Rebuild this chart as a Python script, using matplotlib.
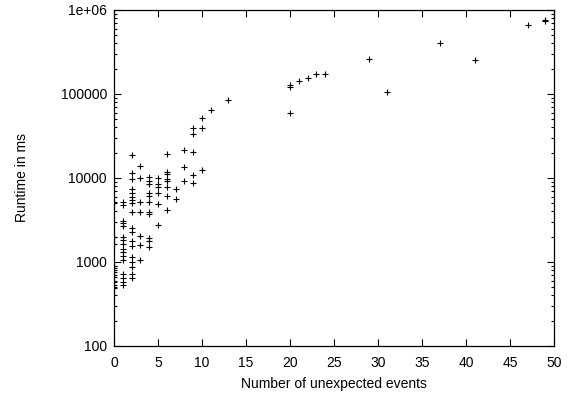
import matplotlib
matplotlib.use("Agg")
import matplotlib.pyplot as plt
from matplotlib.ticker import LogLocator, FixedLocator, NullFormatter, FixedFormatter

# Number of unexpected events (x) and runtime in ms (y)
events = [
    0, 0, 0, 0, 0, 0, 0, 0, 0, 0,
    1, 1, 1, 1, 1, 1, 1, 1, 1, 1, 1, 1, 1, 1, 1, 1,
    2, 2, 2, 2, 2, 2, 2, 2, 2, 2, 2, 2, 2, 2, 2, 2, 2, 2,
    3, 3, 3, 3, 3, 3, 3,
    4, 4, 4, 4, 4, 4, 4, 4, 4, 4, 4,
    5, 5, 5, 5, 5, 5,
    6, 6, 6, 6, 6, 6, 6, 6,
    7, 7,
    8, 8, 8,
    9, 9, 9, 9, 9,
    10, 10, 10,
    11, 13,
    20, 20, 20, 21, 22, 23, 24,
    29, 31, 37, 41, 47, 49, 49,
]
runtime_ms = [
    5140, 1970, 1630, 903, 842, 767, 668, 582, 532, 494,
    5140, 4780, 3080, 2890, 2690, 2000, 1830, 1630, 1430, 1330, 1190, 1060, 713, 640, 582, 532,
    18900, 11600, 9640, 7330, 6680, 6000, 5470, 5000, 3930, 2520, 2300, 1780, 1560, 1160, 990, 879, 713, 640,
    13800, 9920, 5140, 3930, 2040, 1590, 1060,
    10200, 9300, 8490, 6580, 6110, 5140, 3970, 3730, 1910, 1790, 1520,
    9920, 8490, 7870, 6680, 4900, 2750,
    19400, 11900, 11200, 9640, 9300, 7870, 6110, 4160,
    7400, 5570,
    21500, 13600, 9200,
    39000, 33000, 20200, 10900, 8650,
    52000, 39000, 12400,
    65000, 85000,
    127000, 120000, 59000, 144000, 155000, 173000, 173000,
    259000, 106000, 402000, 252000, 658000, 760000, 740000,
]

x_ticks = [0, 5, 10, 15, 20, 25, 30, 35, 40, 45, 50]
y_ticks = [100, 1000, 10000, 100000, 1000000]
y_tick_labels = ["100", "1000", "10000", "100000", "1e+06"]

plt.rcParams["font.family"] = ["Liberation Sans", "DejaVu Sans"]
plt.rcParams["font.size"] = 10

fig = plt.figure(figsize=(5.70, 3.98), dpi=100)
ax = fig.add_axes([0.2, 0.1307, 0.772, 0.8442])

ax.scatter(events, runtime_ms, marker="+", s=20, c="black", linewidths=0.8)

ax.set_yscale("log")
ax.set_xlim(0, 50)
ax.set_ylim(100, 1e6)

ax.xaxis.set_major_locator(FixedLocator(x_ticks))
ax.set_xticklabels([str(t) for t in x_ticks])
ax.yaxis.set_major_locator(FixedLocator(y_ticks))
ax.yaxis.set_major_formatter(FixedFormatter(y_tick_labels))
ax.yaxis.set_minor_locator(LogLocator(base=10, subs=range(2, 10)))
ax.yaxis.set_minor_formatter(NullFormatter())

ax.tick_params(which="both", direction="in", top=True, right=True, width=0.8, color="black")
ax.tick_params(which="major", length=5, pad=5)
ax.tick_params(axis="x", which="major", pad=7)
ax.tick_params(which="minor", length=2.5)
for s in ax.spines.values():
    s.set_linewidth(0.9)
    s.set_color("black")

ax.set_xlabel("Number of unexpected events", labelpad=5)
ax.set_ylabel("Runtime in ms", labelpad=23)

fig.savefig("out.png", dpi=100)
